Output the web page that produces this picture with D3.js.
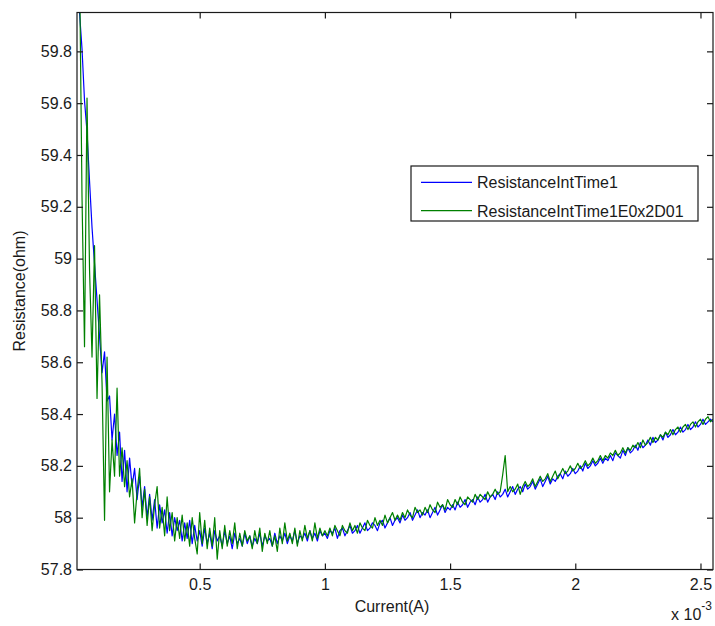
<!DOCTYPE html>
<html>
<head>
<meta charset="utf-8">
<script src="https://cdn.jsdelivr.net/npm/d3@7"></script>
<style>
  body { margin: 0; background: #fff; }
  text { font-family: "Liberation Sans", Arial, sans-serif; fill: #1a1a1a; }
</style>
</head>
<body>
<div id="chart"></div>
<script>
// Current sweep: 0.01 mA to 2.55 mA, one sample every 0.01 mA
var currentStart = 1e-5;
var currentStep = 1e-5;

// Resistance readings (ohm)
var resistance1 = [
  60.30, 59.95, 59.81, 59.61, 59.49, 59.30, 59.12, 58.98, 58.84, 58.70,
  58.56, 58.64, 58.45, 58.47, 58.30, 58.40, 58.24, 58.33, 58.14, 58.26,
  58.10, 58.23, 58.12, 58.19, 58.07, 58.16, 58.04, 58.12, 58.00, 58.09,
  57.99, 58.07, 57.96, 58.05, 57.98, 58.03, 57.94, 58.02, 57.93, 58.00,
  57.95, 57.99, 57.91, 57.98, 57.92, 57.99, 57.90, 57.97, 57.91, 57.95,
  57.89, 57.96, 57.90, 57.94, 57.88, 57.95, 57.91, 57.93, 57.89, 57.95,
  57.90, 57.93, 57.88, 57.94, 57.90, 57.92, 57.89, 57.94, 57.90, 57.93,
  57.89, 57.92, 57.90, 57.94, 57.89, 57.93, 57.91, 57.92, 57.89, 57.94,
  57.90, 57.93, 57.91, 57.94, 57.90, 57.93, 57.91, 57.95, 57.90, 57.93,
  57.92, 57.94, 57.91, 57.95, 57.92, 57.94, 57.91, 57.95, 57.93, 57.94,
  57.92, 57.95, 57.94, 57.96, 57.92, 57.95, 57.96, 57.93, 57.95, 57.97,
  57.94, 57.95, 57.97, 57.94, 57.96, 57.98, 57.95, 57.96, 57.98, 57.97,
  57.95, 57.98, 57.99, 57.96, 57.98, 58.00, 57.97, 57.99, 58.00, 57.98,
  58.01, 57.99, 58.00, 58.02, 57.99, 58.01, 58.03, 58.00, 58.02, 58.01,
  58.03, 58.00, 58.02, 58.04, 58.01, 58.03, 58.05, 58.02, 58.04, 58.03,
  58.05, 58.03, 58.06, 58.04, 58.05, 58.07, 58.04, 58.06, 58.07, 58.05,
  58.08, 58.06, 58.07, 58.09, 58.06, 58.08, 58.09, 58.07, 58.10, 58.08,
  58.09, 58.11, 58.08, 58.10, 58.12, 58.09, 58.11, 58.12, 58.10, 58.13,
  58.11, 58.12, 58.14, 58.11, 58.13, 58.15, 58.12, 58.14, 58.16, 58.13,
  58.15, 58.14, 58.16, 58.17, 58.15, 58.18, 58.16, 58.17, 58.19, 58.17,
  58.18, 58.20, 58.18, 58.21, 58.19, 58.20, 58.22, 58.20, 58.21, 58.23,
  58.21, 58.23, 58.22, 58.24, 58.22, 58.25, 58.24, 58.23, 58.26, 58.24,
  58.27, 58.25, 58.26, 58.28, 58.26, 58.29, 58.27, 58.28, 58.30, 58.28,
  58.31, 58.29, 58.30, 58.32, 58.30, 58.33, 58.31, 58.32, 58.34, 58.32,
  58.33, 58.35, 58.33, 58.34, 58.36, 58.34, 58.35, 58.37, 58.35, 58.36,
  58.38, 58.36, 58.37, 58.38, 58.37
];

var resistance2 = [
  60.60, 60.15, 59.24, 58.66, 59.62, 58.96, 58.62, 59.05, 58.46, 58.86,
  58.52, 57.99, 58.62, 58.10, 58.30, 58.16, 58.50, 58.16, 58.27, 58.12,
  58.22, 58.08, 58.15, 57.98, 58.10, 58.19, 58.00, 58.11, 57.97, 58.08,
  57.95, 58.05, 58.12, 57.96, 58.04, 57.93, 58.08, 57.95, 58.02, 57.91,
  58.00, 57.92, 58.01, 57.91, 57.98, 57.89, 58.00, 57.92, 57.86, 58.02,
  57.90, 57.99, 57.88, 57.96, 57.89, 58.00, 57.84, 57.95, 57.88, 57.97,
  57.89, 57.95, 57.90, 57.98, 57.88, 57.94, 57.89, 57.95, 57.91, 57.93,
  57.88, 57.95, 57.90, 57.96, 57.87, 57.94, 57.90, 57.95, 57.89, 57.93,
  57.87, 57.96, 57.90, 57.98, 57.91, 57.94, 57.90, 57.96, 57.89, 57.95,
  57.91, 57.97, 57.92, 57.95, 57.91, 57.98, 57.92, 57.96, 57.93, 57.95,
  57.93, 57.96, 57.93, 57.97, 57.95, 57.93, 57.97, 57.95, 57.94, 57.98,
  57.95, 57.97, 57.94, 57.98, 57.96, 57.95, 57.99, 57.97, 57.96, 58.00,
  57.97, 57.99, 57.97, 58.01, 57.98, 58.00, 58.02, 57.99, 58.01, 57.99,
  58.02, 58.00, 58.03, 58.01, 58.00, 58.04, 58.02, 58.03, 58.01, 58.04,
  58.02, 58.05, 58.03, 58.02, 58.06, 58.04, 58.05, 58.03, 58.07, 58.05,
  58.04, 58.07, 58.05, 58.08, 58.06, 58.05, 58.08, 58.07, 58.06, 58.09,
  58.07, 58.09, 58.08, 58.07, 58.10, 58.08, 58.09, 58.11, 58.09, 58.10,
  58.165, 58.24, 58.10, 58.12, 58.10, 58.11, 58.13, 58.09, 58.12, 58.14,
  58.12, 58.13, 58.15, 58.12, 58.14, 58.16, 58.14, 58.15, 58.17, 58.14,
  58.16, 58.18, 58.15, 58.17, 58.19, 58.17, 58.18, 58.20, 58.18, 58.19,
  58.21, 58.19, 58.20, 58.22, 58.20, 58.21, 58.23, 58.21, 58.22, 58.24,
  58.22, 58.24, 58.23, 58.25, 58.24, 58.26, 58.24, 58.25, 58.27, 58.25,
  58.27, 58.26, 58.28, 58.27, 58.29, 58.27, 58.30, 58.28, 58.29, 58.31,
  58.29, 58.31, 58.30, 58.32, 58.31, 58.33, 58.32, 58.34, 58.32, 58.34,
  58.35, 58.33, 58.35, 58.36, 58.34, 58.36, 58.37, 58.35, 58.37, 58.38,
  58.36, 58.38, 58.39, 58.37, 58.38
];

var seriesNames = ["ResistanceIntTime1", "ResistanceIntTime1E0x2D01"];
var seriesColors = ["#0000ff", "#008000"];

var xTicks = [0.5e-3, 1e-3, 1.5e-3, 2e-3, 2.5e-3];
var yTicks = [57.8, 58, 58.2, 58.4, 58.6, 58.8, 59, 59.2, 59.4, 59.6, 59.8];

// SVG area
var svgWidth = 715;
var svgHeight = 626;

var margin = {
  top: 12.5,
  right: 2,
  bottom: 56.5,
  left: 77
};

var chartWidth = svgWidth - margin.left - margin.right;
var chartHeight = svgHeight - margin.top - margin.bottom;

var svg = d3.select("#chart")
  .append("svg")
  .attr("width", svgWidth)
  .attr("height", svgHeight);

var chartGroup = svg.append("g")
  .attr("transform", `translate(${margin.left}, ${margin.top})`);

// Scales
var xLinearScale = d3.scaleLinear()
  .domain([1e-5, 2.55e-3])
  .range([0, chartWidth]);

var yLinearScale = d3.scaleLinear()
  .domain([57.8, 59.95])
  .range([chartHeight, 0]);

// Pair each reading with its current value
function toPoints(values) {
  return values.map((v, i) => ({ x: currentStart + i * currentStep, y: v }));
}

var allSeries = [toPoints(resistance1), toPoints(resistance2)];

// Clip lines to the axes box
svg.append("defs").append("clipPath")
  .attr("id", "plot-clip")
  .append("rect")
  .attr("width", chartWidth)
  .attr("height", chartHeight);

var line = d3.line()
  .x(d => xLinearScale(d.x))
  .y(d => yLinearScale(d.y));

chartGroup.append("g")
  .attr("clip-path", "url(#plot-clip)")
  .selectAll("path")
  .data(allSeries)
  .enter()
  .append("path")
  .attr("fill", "none")
  .attr("stroke", (d, i) => seriesColors[i])
  .attr("stroke-width", 1.2)
  .attr("stroke-linejoin", "round")
  .attr("d", line);

// Axes with inward ticks on all four sides
var xFormat = d => String(+(d * 1e3).toFixed(1));
var yFormat = d => String(+d.toFixed(1));

var bottomAxis = d3.axisBottom(xLinearScale)
  .tickValues(xTicks)
  .tickFormat(xFormat)
  .tickSizeInner(-6)
  .tickSizeOuter(0)
  .tickPadding(9);

var leftAxis = d3.axisLeft(yLinearScale)
  .tickValues(yTicks)
  .tickFormat(yFormat)
  .tickSizeInner(-6)
  .tickSizeOuter(0)
  .tickPadding(5);

var topAxis = d3.axisTop(xLinearScale)
  .tickValues(xTicks)
  .tickFormat("")
  .tickSizeInner(-6)
  .tickSizeOuter(0);

var rightAxis = d3.axisRight(yLinearScale)
  .tickValues(yTicks)
  .tickFormat("")
  .tickSizeInner(-6)
  .tickSizeOuter(0);

var xAxis = chartGroup.append("g")
  .attr("transform", `translate(0, ${chartHeight})`)
  .call(bottomAxis);

var yAxis = chartGroup.append("g")
  .call(leftAxis);

chartGroup.append("g").call(topAxis);

chartGroup.append("g")
  .attr("transform", `translate(${chartWidth}, 0)`)
  .call(rightAxis);

chartGroup.selectAll(".domain").remove();
chartGroup.selectAll(".tick line")
  .attr("stroke", "#1a1a1a")
  .attr("stroke-width", 1.2);
chartGroup.selectAll(".tick text")
  .attr("font-size", 16)
  .attr("fill", "#1a1a1a")
  .attr("font-family", "'Liberation Sans', Arial, sans-serif");

// Box round the plot
chartGroup.append("rect")
  .attr("width", chartWidth)
  .attr("height", chartHeight)
  .attr("fill", "none")
  .attr("stroke", "#1a1a1a")
  .attr("stroke-width", 1.2);

// Axis titles
chartGroup.append("text")
  .attr("x", chartWidth / 2 - 3)
  .attr("y", chartHeight + 42)
  .attr("text-anchor", "middle")
  .attr("font-size", 16)
  .text("Current(A)");

chartGroup.append("text")
  .attr("transform", "rotate(-90)")
  .attr("x", -chartHeight / 2)
  .attr("y", -52)
  .attr("text-anchor", "middle")
  .attr("font-size", 16)
  .text("Resistance(ohm)");

// Exponent label
var expLabel = chartGroup.append("text")
  .attr("x", chartWidth - 1)
  .attr("y", chartHeight + 50)
  .attr("text-anchor", "end")
  .attr("font-size", 16);
expLabel.append("tspan").text("x 10");
expLabel.append("tspan")
  .attr("dy", -10)
  .attr("font-size", 12)
  .text("-3");

// Legend
var legend = svg.append("g")
  .attr("transform", "translate(411, 166)");

legend.append("rect")
  .attr("width", 287)
  .attr("height", 55)
  .attr("fill", "#fff")
  .attr("stroke", "#1a1a1a")
  .attr("stroke-width", 1.2);

var legendRows = legend.selectAll(".legend-row")
  .data(seriesNames)
  .enter()
  .append("g")
  .classed("legend-row", true)
  .attr("transform", (d, i) => `translate(0, ${16.3 + i * 28.4})`);

legendRows.append("line")
  .attr("x1", 10)
  .attr("x2", 61)
  .attr("stroke", (d, i) => seriesColors[i])
  .attr("stroke-width", 1.2);

legendRows.append("text")
  .attr("x", 66)
  .attr("y", 6)
  .attr("font-size", 16)
  .text(d => d);
</script>
</body>
</html>
